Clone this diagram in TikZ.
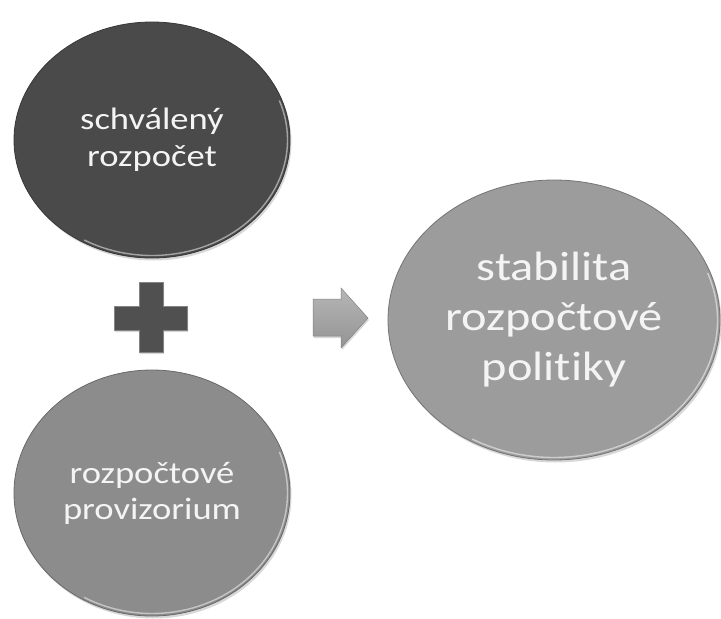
\documentclass[tikz,border=0pt]{standalone}
\usepackage{fontspec}
\newfontfamily\carl[FakeStretch=1.18, Ligatures=NoCommon, RawFeature=-liga;-clig;-dlig]{Carlito}
\usetikzlibrary{shapes.geometric,shadows}
\definecolor{darkc}{HTML}{4A4A4A}
\definecolor{midc}{HTML}{8C8C8C}
\definecolor{lightc}{HTML}{9C9C9C}
\definecolor{plusc}{HTML}{505050}
\definecolor{arrowc}{HTML}{A4A4A4}
\definecolor{txtc}{HTML}{F4F4F4}
\begin{document}
\begin{tikzpicture}[x=1pt,y=-1pt,
  bubble/.style={ellipse, inner sep=0pt, draw=#1!75!black, line width=0.8pt,
    fill=#1, text=txtc, align=center,
    drop shadow={opacity=0.3, shadow xshift=1.5pt, shadow yshift=-2.5pt}},
  rim/.style={draw=white, opacity=0.5, line width=1.4pt},
  shapeshadow/.style={drop shadow={opacity=0.3, shadow xshift=1pt, shadow yshift=-2pt}}
]
\useasboundingbox (0,0) rectangle (721,619);
\fill[white] (0,0) rectangle (721,619);

\node[bubble=darkc, minimum width=276pt, minimum height=236pt,
      font=\carl\fontsize{31}{37}\selectfont] (top) at (152,140) {schválený\\rozpočet};
\node[bubble=midc, minimum width=276pt, minimum height=246pt,
      font=\carl\fontsize{31}{36}\selectfont] (bot) at (152,493) {rozpočtové\\provizorium};
\node[bubble=lightc, minimum width=332pt, minimum height=280pt,
      font=\carl\fontsize{41}{50}\selectfont] (res) at (554,320) {stabilita\\rozpočtové\\politiky};

% rim highlights
\draw[rim] (top.center) ++(-20:135.5 and 115.5) arc[start angle=-20, end angle=120, x radius=135.5, y radius=115.5];
\draw[rim] (bot.center) ++(-20:135.5 and 120.5) arc[start angle=-20, end angle=120, x radius=135.5, y radius=120.5];
\draw[rim] (res.center) ++(-20:163.5 and 137.5) arc[start angle=-20, end angle=120, x radius=163.5, y radius=137.5];

% plus sign
\path[fill=plusc, draw=plusc!70!white, line width=0.6pt, shapeshadow]
  (139,282) -- (163,282) -- (163,306) -- (187,306) -- (187,330) -- (163,330)
  -- (163,352) -- (139,352) -- (139,330) -- (114,330) -- (114,306) -- (139,306) -- cycle;

% arrow
\path[top color=arrowc!80!white, bottom color=arrowc!90!black, draw=arrowc!80!black,
      line width=0.5pt, shapeshadow]
  (313,299) -- (341,299) -- (341,288) -- (368,318) -- (341,348) -- (341,336)
  -- (313,336) -- cycle;
\end{tikzpicture}
\end{document}
